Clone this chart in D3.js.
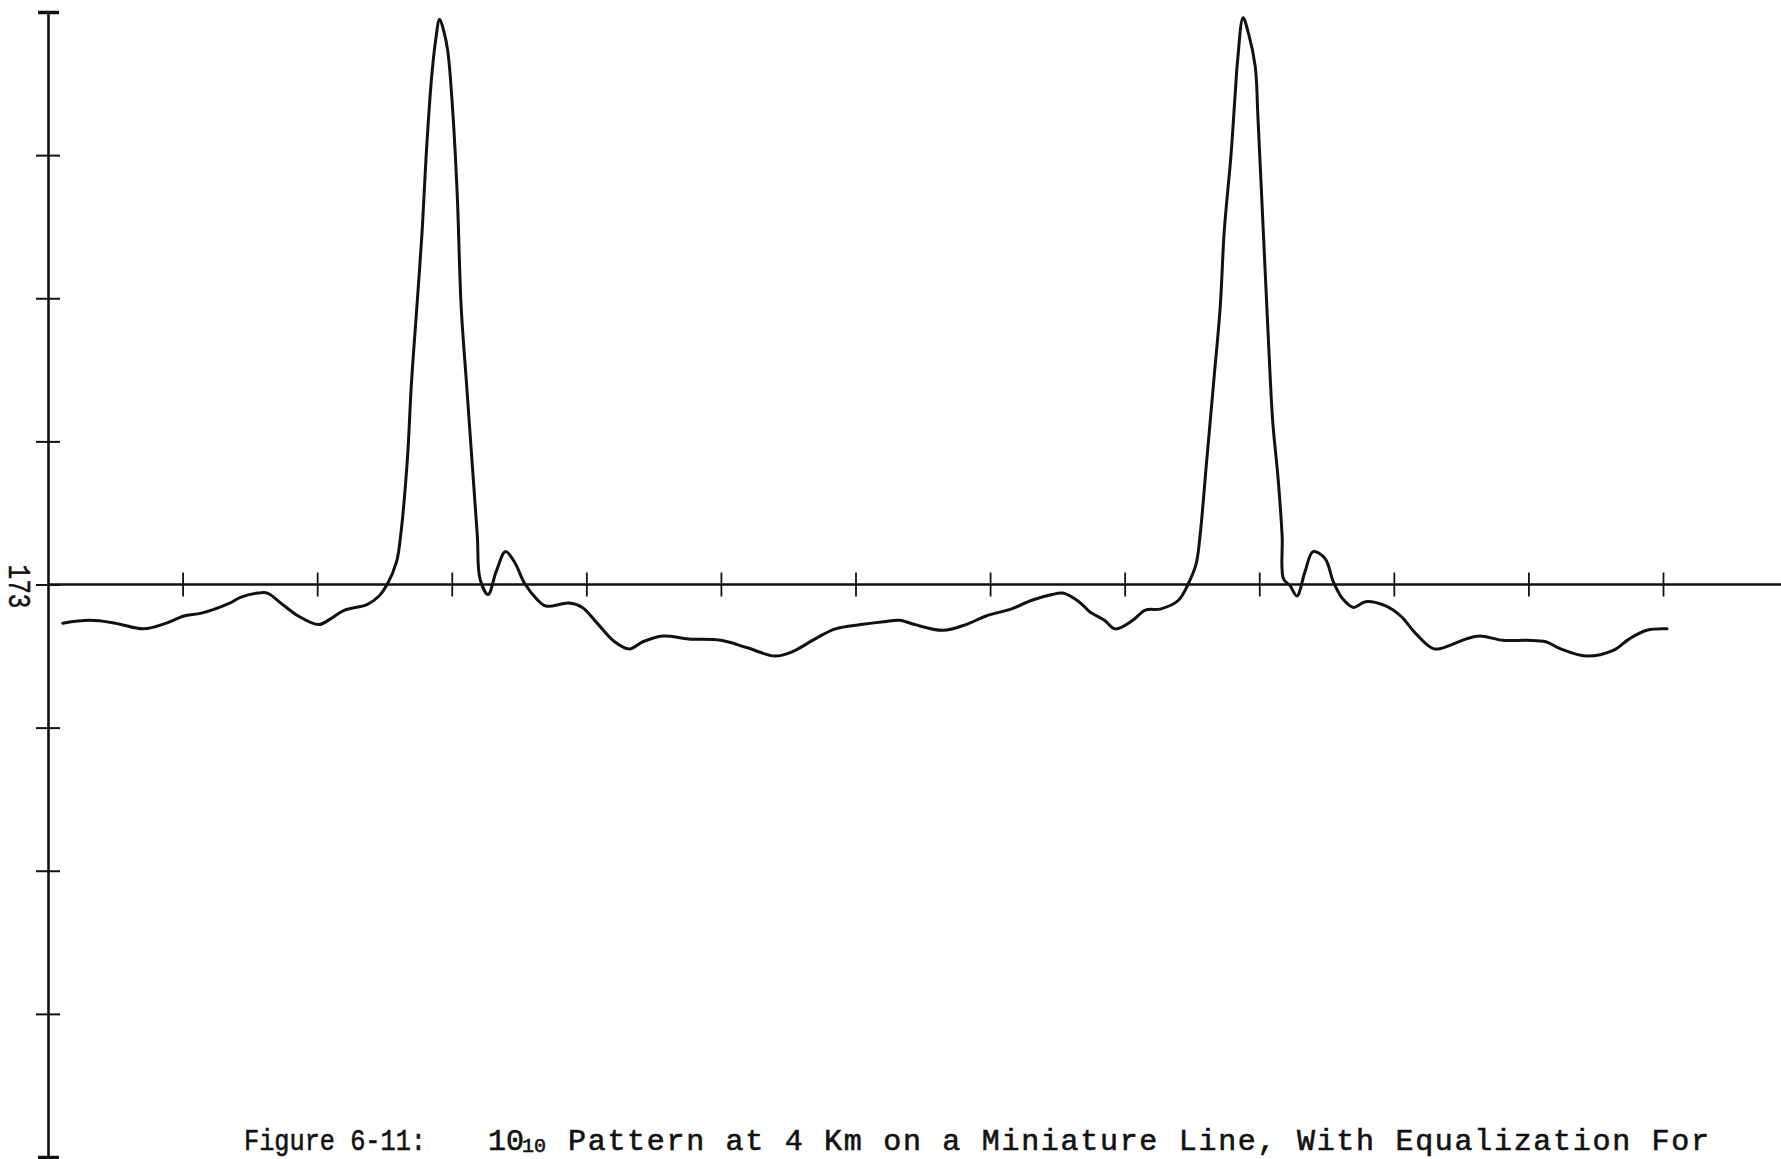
<!DOCTYPE html>
<html>
<head>
<meta charset="utf-8">
<script src="https://cdn.jsdelivr.net/npm/d3@7"></script>
<style>
  body { margin: 0; background: #fff; }
  svg { display: block; }
  text { font-family: "Liberation Mono", "DejaVu Sans Mono", monospace; fill: #111; }
</style>
</head>
<body>
<svg id="chart"></svg>
<script>
// tick positions along the trace (one division each) and level ticks
const xTicks = [1, 2, 3, 4, 5, 6, 7, 8, 9, 10, 11, 12];
const yTicks = [169, 170, 171, 172, 173, 174, 175, 176, 177];
const baseLevel = 173;

// [position in divisions, level]
const trace = [
    [0.11, 172.73], [0.31, 172.75], [0.50, 172.73], [0.71, 172.69], [0.88, 172.73],
    [1.01, 172.78], [1.14, 172.80], [1.35, 172.87], [1.43, 172.91], [1.56, 172.94],
    [1.63, 172.94], [1.73, 172.87], [1.86, 172.78], [2.01, 172.72], [2.10, 172.76],
    [2.20, 172.82], [2.37, 172.86], [2.46, 172.92], [2.52, 173.00], [2.59, 173.16],
    [2.62, 173.34], [2.67, 173.87], [2.70, 174.40], [2.74, 174.93], [2.78, 175.47],
    [2.81, 176.00], [2.85, 176.54], [2.88, 176.80], [2.91, 176.95], [2.94, 176.87],
    [2.97, 176.73], [3.00, 176.41], [3.04, 175.74], [3.07, 174.94], [3.11, 174.40],
    [3.15, 173.87], [3.19, 173.34], [3.21, 173.04], [3.27, 172.93], [3.33, 173.09],
    [3.40, 173.23], [3.47, 173.15], [3.54, 173.01], [3.63, 172.90], [3.70, 172.85],
    [3.87, 172.87], [3.97, 172.84], [4.08, 172.73], [4.21, 172.60], [4.32, 172.55],
    [4.42, 172.60], [4.57, 172.64], [4.76, 172.62], [5.00, 172.61], [5.19, 172.56],
    [5.40, 172.50], [5.53, 172.53], [5.70, 172.62], [5.85, 172.69], [6.04, 172.72],
    [6.21, 172.74], [6.33, 172.75], [6.44, 172.72], [6.65, 172.68], [6.82, 172.72],
    [6.97, 172.78], [7.16, 172.83], [7.31, 172.89], [7.46, 172.93], [7.54, 172.94],
    [7.66, 172.88], [7.74, 172.81], [7.85, 172.75], [7.93, 172.69], [8.06, 172.75],
    [8.15, 172.82], [8.27, 172.83], [8.40, 172.89], [8.47, 173.00], [8.53, 173.14],
    [8.56, 173.34], [8.61, 173.87], [8.66, 174.40], [8.71, 174.94], [8.74, 175.47],
    [8.79, 176.00], [8.82, 176.41], [8.84, 176.67], [8.88, 176.96], [8.92, 176.85],
    [8.97, 176.62], [8.99, 176.27], [9.03, 175.47], [9.07, 174.67], [9.10, 174.14],
    [9.14, 173.74], [9.17, 173.34], [9.18, 173.04], [9.23, 172.99], [9.28, 172.92],
    [9.34, 173.09], [9.40, 173.23], [9.49, 173.18], [9.55, 173.02], [9.62, 172.90],
    [9.70, 172.84], [9.79, 172.88], [9.94, 172.85], [10.05, 172.78], [10.17, 172.65],
    [10.30, 172.55], [10.43, 172.58], [10.54, 172.62], [10.64, 172.64], [10.81, 172.61],
    [10.99, 172.61], [11.13, 172.60], [11.24, 172.55], [11.43, 172.50], [11.63, 172.54],
    [11.75, 172.62], [11.88, 172.68], [12.03, 172.69]
];

const captionLabel = "Figure 6-11:";
const captionMain = "10";
const captionSub = "10";
const captionRest = "Pattern at 4 Km on a Miniature Line, With Equalization For";

let width = 1781, height = 1159;

let svg = d3.select("#chart")
    .attr("width", width)
    .attr("height", height);

let x = d3.scaleLinear().domain([0, 12]).range([48, 1663]);
let y = d3.scaleLinear().domain([169, 177]).range([1157, 12]);

// vertical axis, ticks crossing the line on both sides
let yAxis = svg.append("g")
    .attr("transform", `translate(${x(0)},0)`)
    .call(d3.axisLeft(y).tickValues(yTicks).tickSize(12).tickSizeOuter(0).tickFormat(""));
yAxis.select(".domain").attr("stroke", "#111").attr("stroke-width", 2.6);
yAxis.selectAll(".tick line")
    .attr("x1", d => (d === 169 || d === 177) ? -10 : -12)
    .attr("x2", d => (d === 169 || d === 177) ? 11 : 12)
    .attr("stroke", "#111")
    .attr("stroke-width", d => (d === 169 || d === 177) ? 3.5 : 2);

// baseline at 173
svg.append("line")
    .attr("x1", x(0)).attr("x2", width)
    .attr("y1", y(baseLevel)).attr("y2", y(baseLevel))
    .attr("stroke", "#111")
    .attr("stroke-width", 2.6);

let xAxis = svg.append("g")
    .attr("transform", `translate(0,${y(baseLevel)})`)
    .call(d3.axisBottom(x).tickValues(xTicks).tickSize(12).tickSizeOuter(0).tickFormat(""));
xAxis.select(".domain").remove();
xAxis.selectAll(".tick line")
    .attr("y1", -12)
    .attr("y2", 12)
    .attr("stroke", "#111")
    .attr("stroke-width", 1.8);

// level label, typed sideways
svg.append("text")
    .attr("transform", `translate(17,${y(baseLevel) + 2}) rotate(90)`)
    .attr("text-anchor", "middle")
    .attr("dominant-baseline", "central")
    .attr("textLength", 44)
    .attr("lengthAdjust", "spacingAndGlyphs")
    .style("font-size", "31px")
    .style("stroke", "#111")
    .style("stroke-width", 0.5)
    .text(String(baseLevel));

// the trace
let line = d3.line()
    .x(d => x(d[0]))
    .y(d => y(d[1]))
    .curve(d3.curveCatmullRom.alpha(0.5));

svg.append("path")
    .datum(trace)
    .attr("fill", "none")
    .attr("stroke", "#111")
    .attr("stroke-width", 3)
    .attr("stroke-linejoin", "round")
    .attr("stroke-linecap", "round")
    .attr("d", line);

// caption
let cap = svg.append("g")
    .style("font-size", "30px")
    .style("stroke", "#111")
    .style("stroke-width", 0.6);
cap.append("text")
    .attr("x", 244).attr("y", 1150)
    .attr("textLength", 182)
    .attr("lengthAdjust", "spacingAndGlyphs")
    .text(captionLabel);
cap.append("text").attr("x", 488).attr("y", 1150).text(captionMain);
cap.append("text").attr("x", 522).attr("y", 1152).style("font-size", "20px").text(captionSub);
cap.append("text")
    .attr("x", 568).attr("y", 1150)
    .attr("textLength", 1141)
    .attr("lengthAdjust", "spacing")
    .text(captionRest);
</script>
</body>
</html>
